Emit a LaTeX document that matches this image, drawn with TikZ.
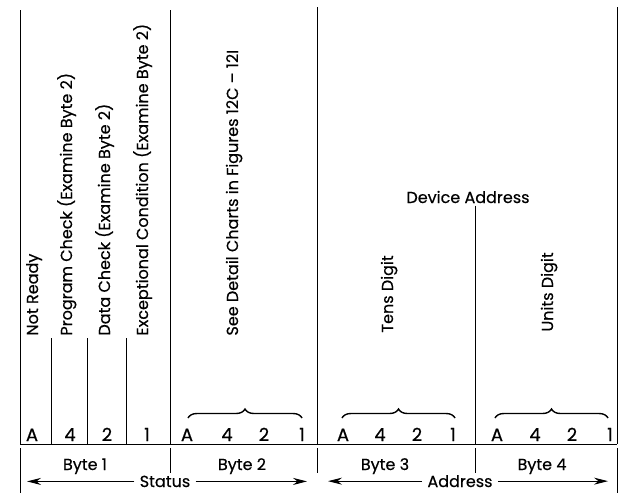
\documentclass[tikz,border=0pt]{standalone}
\usepackage{fontspec}
\setmainfont{Poppins}[FakeBold=0.4]
\usetikzlibrary{arrows.meta,decorations.pathreplacing}
\begin{document}
\begin{tikzpicture}[x=1pt,y=-1pt,line width=0.9pt,font=\fontsize{16}{18}\selectfont,
  bit/.style={anchor=base,inner sep=0pt},
  uplabel/.style={rotate=90,anchor=base west,inner sep=0pt},
  bytebrace/.style={decorate,decoration={brace,amplitude=9pt},line width=1.4pt},
  longarrow/.style={-{Stealth[length=14pt,width=7pt]}},
  arrowtext/.style={anchor=base,inner xsep=5pt,inner ysep=0pt}]
\useasboundingbox (0,0) rectangle (621,493);

\draw (20,10) -- (20,444);
\draw (51,338) -- (51,444);
\draw (87,338) -- (87,444);
\draw (126,338) -- (126,444);
\draw (170,10) -- (170,444);
\draw (317,7) -- (317,444);
\draw (617,7) -- (617,444);
\draw (20,444) -- (617,444);

\node[uplabel] (notready) at (38,336) {Not Ready};
\node[uplabel] (progcheck) at (72,336) {Program Check (Examine Byte 2)};
\node[uplabel] (datacheck) at (110,336) {Data Check (Examine Byte 2)};
\node[uplabel] (exccond) at (148,336) {Exceptional Condition (Examine Byte 2)};
\node[uplabel] (detail) at (238,336) {See Detail Charts in Figures 12C -- 12I};

\node[anchor=base,inner sep=2pt] (devaddr) at (468,203) {Device Address};
\coordinate (split) at (475,444);
\draw (devaddr.south -| split) -- (split);
\node[uplabel] (tens) at (393,333) {Tens Digit};
\node[uplabel] (units) at (553,332) {Units Digit};

\draw[bytebrace] (188,418) -- (302,418);
\draw[bytebrace] (342,418) -- (455,418);
\draw[bytebrace] (495,418) -- (608,418);

\begin{scope}[font=\fontsize{18}{20}\selectfont]
\node[bit] (b1a) at (32,441) {A};
\node[bit] (b14) at (70,441) {4};
\node[bit] (b12) at (107,441) {2};
\node[bit] (b11) at (147,441) {1};
\node[bit] (b2a) at (187,441) {A};
\node[bit] (b24) at (227,441) {4};
\node[bit] (b22) at (264,441) {2};
\node[bit] (b21) at (302,441) {1};
\node[bit] (b3a) at (343,441) {A};
\node[bit] (b34) at (380,441) {4};
\node[bit] (b32) at (417,441) {2};
\node[bit] (b31) at (453,441) {1};
\node[bit] (b4a) at (497,441) {A};
\node[bit] (b44) at (535,441) {4};
\node[bit] (b42) at (572,441) {2};
\node[bit] (b41) at (610,441) {1};
\end{scope}

\draw (20,448) -- (20,493);
\draw (170,448) -- (170,473);
\draw (317,448) -- (317,473);
\draw (475,448) -- (475,473);
\draw (617,448) -- (617,493);

\node[bit] (byte1) at (85,470) {Byte 1};
\node[bit] (byte2) at (242,470) {Byte 2};
\node[bit] (byte3) at (385,470) {Byte 3};
\node[bit] (byte4) at (542,470) {Byte 4};

\node[arrowtext] (status) at (165,487) {Status};
\coordinate (statusl) at (27,482);
\coordinate (statusr) at (307,482);
\draw[longarrow] (status.west) -- (status.west -| statusl);
\draw[longarrow] (status.east) -- (status.east -| statusr);

\node[arrowtext] (address) at (460,487) {Address};
\coordinate (addressl) at (328,482);
\coordinate (addressr) at (608,482);
\draw[longarrow] (address.west) -- (address.west -| addressl);
\draw[longarrow] (address.east) -- (address.east -| addressr);
\end{tikzpicture}
\end{document}
